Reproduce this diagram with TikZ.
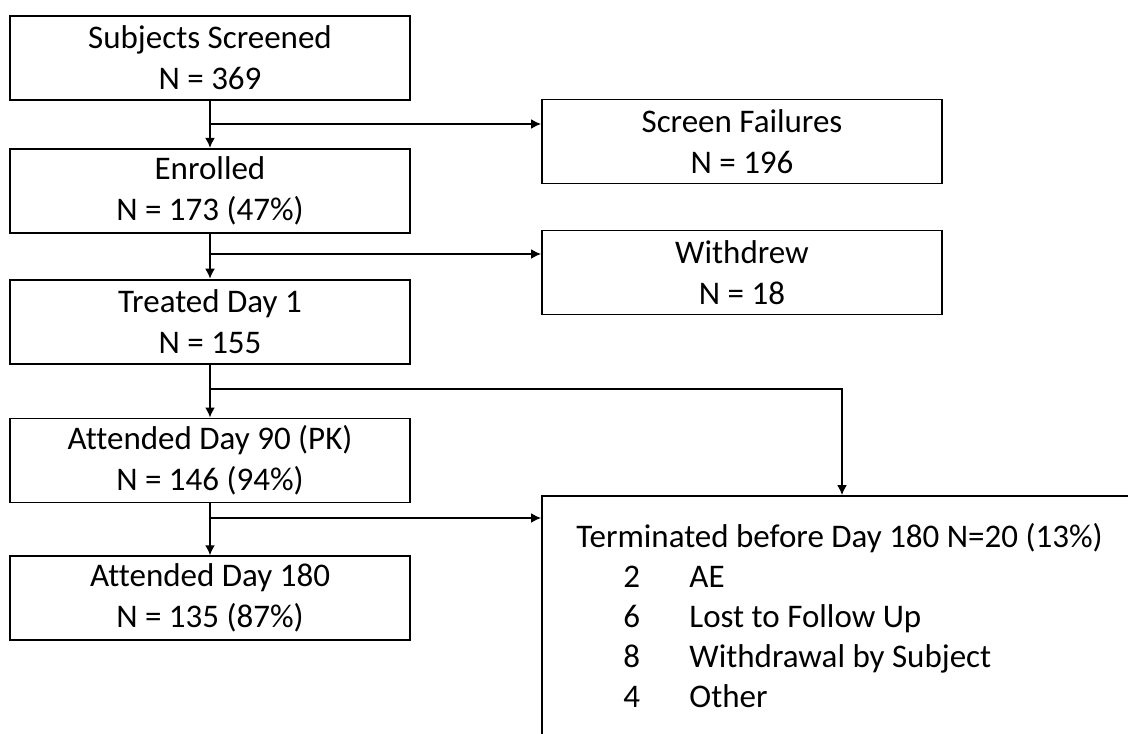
\documentclass[tikz,border=0pt]{standalone}
\usepackage{fontspec}
\setmainfont[Ligatures=NoCommon]{Carlito}
\usetikzlibrary{positioning}
\usetikzlibrary{arrows.meta}
\usetikzlibrary{calc}

\begin{document}
\begin{tikzpicture}[
    x=0.5pt, y=-0.5pt,
    block/.style={align=center, rectangle, draw=black, line width=0.9pt, fill=white, minimum width=200pt, minimum height=42pt, inner sep=0pt, font=\fontsize{16.5}{20.5}\selectfont},
    arr/.style={line width=0.9pt, -{Latex[length=5pt, width=5pt]}},
    item/.style={anchor=base west, inner sep=0pt, font=\fontsize{16.5}{20}\selectfont}
]
    \useasboundingbox (0,0) rectangle (1128,733);
    \clip (0,0) rectangle (1128,733);

    % Main column
    \node[block] (screened) at (210,58) {Subjects Screened\\N = 369};
    \node[block] (enrolled) [below=23.5pt of screened] {Enrolled\\N = 173 (47\%)};
    \node[block] (treated) [below=22.5pt of enrolled] {Treated Day 1\\N = 155};
    \node[block] (day90) [below=26.5pt of treated] {Attended Day 90 (PK)\\N = 146 (94\%)};
    \node[block] (day180) [below=26pt of day90] {Attended Day 180\\N = 135 (87\%)};

    % Side boxes
    \node[block] (failures) at (742,141.5) {Screen Failures\\N = 196};
    \node[block] (withdrew) at (742,272.5) {Withdrew\\N = 18};
    \node[block, minimum width=300pt, minimum height=130pt] (term) at (842,626) {};

    % Terminated list
    \node[item] (termtitle) at (576,547) {Terminated before Day 180 N=20 (13\%)};
    \node[item] (n1) at (623,587) {2};
    \node[item] (r1) at (689,587) {AE};
    \node[item] (n2) at (623,627) {6};
    \node[item] (r2) at (689,627) {Lost to Follow Up};
    \node[item] (n3) at (623,667) {8};
    \node[item] (r3) at (689,667) {Withdrawal by Subject};
    \node[item] (n4) at (623,707) {4};
    \node[item] (r4) at (689,707) {Other};

    % Branch points
    \coordinate (b1) at (210,124);
    \coordinate (b2) at (210,254);
    \coordinate (b3) at (210,389);
    \coordinate (b4) at (210,518);

    % Connectors
    \draw[arr] (screened) -- (enrolled);
    \draw[arr] (enrolled) -- (treated);
    \draw[arr] (treated) -- (day90);
    \draw[arr] (day90) -- (day180);

    \draw[arr] (b1) -- (b1 -| failures.west);
    \draw[arr] (b2) -- (b2 -| withdrew.west);
    \draw[arr] (b3) -| (term.north);
    \draw[arr] (b4) -- (b4 -| term.west);
\end{tikzpicture}
\end{document}
